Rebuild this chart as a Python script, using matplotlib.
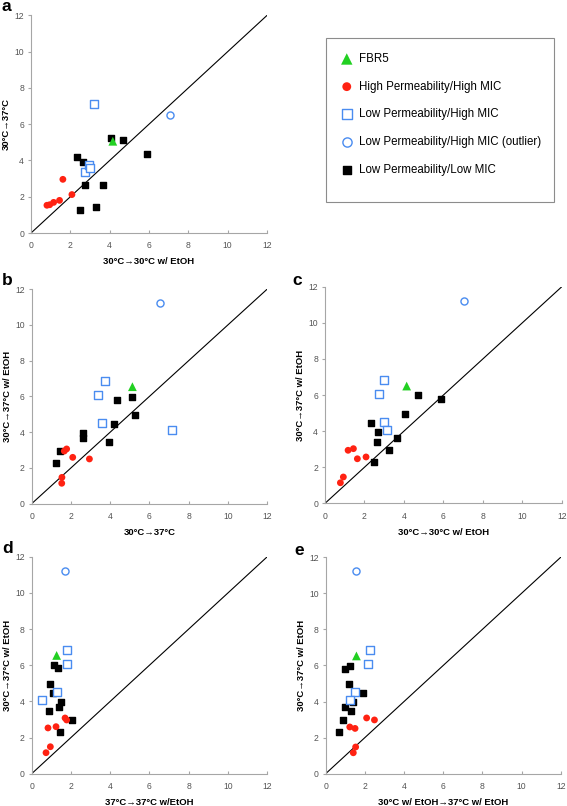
import numpy as np
import matplotlib
matplotlib.use("Agg")
import matplotlib.pyplot as plt
from matplotlib.patches import Rectangle

plt.rcParams['font.family'] = ['Liberation Sans', 'DejaVu Sans']

# groups
groups = ["FBR5", "High Permeability/High MIC", "Low Permeability/High MIC",
          "Low Permeability/High MIC (outlier)", "Low Permeability/Low MIC"]

# panel a: x = 30->30 w/ EtOH, y = 30->37
a_fbr5_x = [4.16]
a_fbr5_y = [5.06]
a_red_x = [0.81, 0.95, 1.15, 1.45, 1.62, 2.08]
a_red_y = [1.53, 1.56, 1.69, 1.80, 2.96, 2.12]
a_bsq_x = [3.18, 2.77, 2.97, 3.02]
a_bsq_y = [7.14, 3.35, 3.77, 3.57]
a_bci_x = [7.06]
a_bci_y = [6.53]
a_blk_x = [4.09, 4.70, 5.88, 2.33, 2.64, 2.72, 3.65, 2.48, 3.28]
a_blk_y = [5.26, 5.12, 4.38, 4.20, 3.94, 2.67, 2.63, 1.29, 1.44]

# panel b: x = 30->37, y = 30->37 w/ EtOH
b_fbr5_x = [5.13]
b_fbr5_y = [6.54]
b_red_x = [1.53, 1.54, 1.66, 1.78, 2.09, 2.94]
b_red_y = [1.14, 1.47, 2.94, 3.06, 2.59, 2.50]
b_bsq_x = [3.75, 3.36, 3.56, 7.16]
b_bsq_y = [6.84, 6.07, 4.53, 4.10]
b_bci_x = [6.53]
b_bci_y = [11.24]
b_blk_x = [1.24, 1.44, 2.63, 2.63, 3.92, 4.18, 4.36, 5.13, 5.24]
b_blk_y = [2.29, 2.96, 3.93, 3.67, 3.43, 4.45, 5.81, 5.98, 4.97]

# panel c: x = 30->30 w/ EtOH, y = 30->37 w/ EtOH
c_fbr5_x = [4.14]
c_fbr5_y = [6.50]
c_red_x = [0.78, 0.93, 1.17, 1.44, 1.64, 2.08]
c_red_y = [1.14, 1.46, 2.94, 3.03, 2.47, 2.57]
c_bsq_x = [2.97, 2.74, 3.01, 3.16]
c_bsq_y = [6.81, 6.05, 4.50, 4.06]
c_bci_x = [7.03]
c_bci_y = [11.21]
c_blk_x = [2.33, 2.70, 2.62, 2.48, 3.24, 3.63, 4.07, 4.70, 5.88]
c_blk_y = [4.43, 3.93, 3.42, 2.29, 2.94, 3.64, 4.95, 5.98, 5.80]

# panel d: x = 37->37 w/EtOH, y = 30->37 w/ EtOH
d_fbr5_x = [1.27]
d_fbr5_y = [6.54]
d_red_x = [0.73, 0.95, 0.83, 1.24, 1.70, 1.78]
d_red_y = [1.16, 1.49, 2.53, 2.60, 3.08, 2.97]
d_bsq_x = [1.82, 1.82, 1.27, 0.54]
d_bsq_y = [6.84, 6.06, 4.52, 4.09]
d_bci_x = [1.71]
d_bci_y = [11.21]
d_blk_x = [1.15, 1.32, 0.95, 1.07, 1.49, 1.39, 0.87, 1.43, 2.07]
d_blk_y = [5.99, 5.82, 4.96, 4.46, 3.94, 3.67, 3.45, 2.30, 2.97]

# panel e: x = 30 w/ EtOH->37 w/ EtOH, y = 30->37 w/ EtOH
e_fbr5_x = [1.57]
e_fbr5_y = [6.53]
e_red_x = [1.41, 1.53, 1.23, 1.50, 2.09, 2.49]
e_red_y = [1.16, 1.48, 2.59, 2.51, 3.09, 2.98]
e_bsq_x = [2.28, 2.18, 1.48, 1.26]
e_bsq_y = [6.84, 6.06, 4.53, 4.10]
e_bci_x = [1.57]
e_bci_y = [11.22]
e_blk_x = [0.97, 1.24, 1.21, 1.89, 1.41, 1.00, 1.28, 0.89, 0.70]
e_blk_y = [5.81, 5.97, 4.97, 4.47, 3.96, 3.68, 3.46, 2.96, 2.31]

ticks = [0, 2, 4, 6, 8, 10, 12]

panels = [
    ("a", [0.0547, 0.7109, 0.4162, 0.2700], "30°C→30°C w/ EtOH", "30°C→37°C",
     a_fbr5_x, a_fbr5_y, a_red_x, a_red_y, a_bsq_x, a_bsq_y, a_bci_x, a_bci_y, a_blk_x, a_blk_y),
    ("b", [0.0559, 0.3751, 0.4155, 0.2663], "30°C→37°C", "30°C→37°C w/ EtOH",
     b_fbr5_x, b_fbr5_y, b_red_x, b_red_y, b_bsq_x, b_bsq_y, b_bci_x, b_bci_y, b_blk_x, b_blk_y),
    ("c", [0.5732, 0.3755, 0.4175, 0.2687], "30°C→30°C w/ EtOH", "30°C→37°C w/ EtOH",
     c_fbr5_x, c_fbr5_y, c_red_x, c_red_y, c_bsq_x, c_bsq_y, c_bci_x, c_bci_y, c_blk_x, c_blk_y),
    ("d", [0.0559, 0.0401, 0.4155, 0.2692], "37°C→37°C w/EtOH", "30°C→37°C w/ EtOH",
     d_fbr5_x, d_fbr5_y, d_red_x, d_red_y, d_bsq_x, d_bsq_y, d_bci_x, d_bci_y, d_blk_x, d_blk_y),
    ("e", [0.5744, 0.0401, 0.4145, 0.2685], "30°C w/ EtOH→37°C w/ EtOH", "30°C→37°C w/ EtOH",
     e_fbr5_x, e_fbr5_y, e_red_x, e_red_y, e_bsq_x, e_bsq_y, e_bci_x, e_bci_y, e_blk_x, e_blk_y),
]

# letter positions (pixels from top-left, baseline)
letter_pos = {"a": (1, 11), "b": (2, 285), "c": (292, 285), "d": (2, 553), "e": (294, 555)}

W, H = 567, 806
fig = plt.figure(figsize=(W / 100, H / 100), dpi=100)

spine_col = "#a6a6a6"
handles = None
for p in panels:
    letter, rect, xl, yl = p[0], p[1], p[2], p[3]
    fx, fy, rx, ry, sx, sy, cx, cy, kx, ky = p[4:]
    ax = fig.add_axes(rect)
    ax.set_xlim(0, 12)
    ax.set_ylim(0, 12)
    ax.plot([0, 12], [0, 12], color="black", lw=0.8, zorder=1)
    h5 = ax.scatter(kx, ky, marker="s", s=20, color="black", zorder=3, label=groups[4])
    h2 = ax.scatter(rx, ry, marker="o", s=24, color="#ff2212", edgecolors="none", zorder=3, label=groups[1])
    h3 = ax.scatter(sx, sy, marker="s", s=26, facecolors="white", edgecolors="#4a8cf0",
                    linewidths=1.0, zorder=3, label=groups[2])
    h4 = ax.scatter(cx, cy, marker="o", s=26, facecolors="white", edgecolors="#4a8cf0",
                    linewidths=1.0, zorder=3, label=groups[3])
    h1 = ax.scatter(fx, fy, marker="^", s=40, color="#22d022", edgecolors="none", zorder=4, label=groups[0])
    if handles is None:
        handles = [h1, h2, h3, h4, h5]
    ax.set_xticks(ticks)
    ax.set_yticks(ticks)
    for s in ["top", "right"]:
        ax.spines[s].set_visible(False)
    for s in ["left", "bottom"]:
        ax.spines[s].set_color(spine_col)
        ax.spines[s].set_linewidth(0.8)
    ax.tick_params(axis="x", direction="in", length=2, width=0.8, color=spine_col,
                   labelsize=6.2, labelcolor="#555555", pad=6)
    ax.tick_params(axis="y", direction="out", length=2, width=0.8, color=spine_col,
                   labelsize=6.2, labelcolor="#555555", pad=3)
    ax.set_xlabel(xl, fontsize=6.8, fontweight="bold", labelpad=5)
    ax.set_ylabel(yl, fontsize=6.8, fontweight="bold", labelpad=2.5)
    lx, ly = letter_pos[letter]
    fig.text(lx / W, 1 - ly / H, letter, fontsize=12.5, fontweight="bold", va="baseline", ha="left")

# legend box
fig.patches.append(Rectangle((325.7 / W, 1 - 201.7 / H), (554.3 - 325.7) / W, (201.7 - 38.3) / H,
                             transform=fig.transFigure, facecolor="white", edgecolor="#8c8c8c",
                             lw=0.8, zorder=0))
leg = fig.legend(handles=handles, labels=groups, loc="upper left",
                 bbox_to_anchor=(341 / W, 1 - 53 / H), frameon=False, fontsize=8.3,
                 scatterpoints=1, markerscale=1.3, handlelength=1.0, handletextpad=0.6,
                 labelspacing=1.36, borderpad=0, borderaxespad=0)

fig.savefig("out.png", dpi=100)
